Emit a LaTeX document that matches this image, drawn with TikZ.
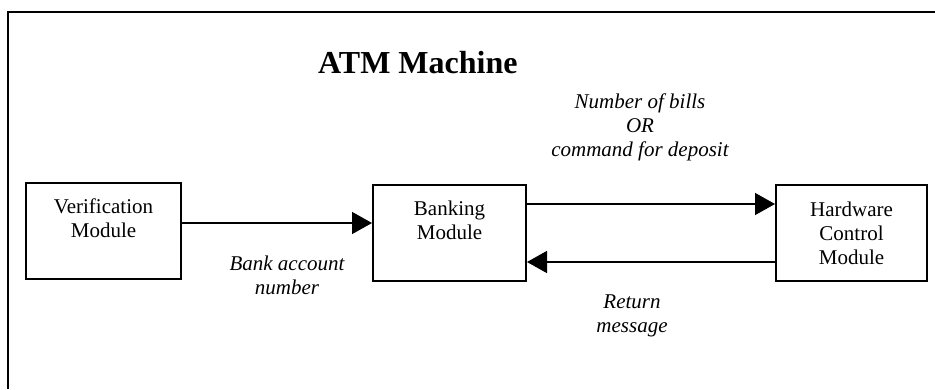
\documentclass[tikz,border=0pt]{standalone}
\usepackage{fontspec}
\setmainfont{Liberation Serif}
\usetikzlibrary{arrows.meta}

\tikzset{
  modbox/.style={draw, line width=2pt, minimum width=#1, minimum height=96pt, inner sep=0pt},
  boxtext/.style={anchor=north, align=center, inner sep=0pt,
    font=\fontsize{21}{24}\selectfont},
  flowlabel/.style={anchor=north, align=center, inner sep=0pt,
    font=\fontsize{21}{24}\selectfont\itshape},
  flow/.style={line width=1.5pt, -{Triangle[length=20pt,width=22pt]}},
  frameline/.style={line width=2pt}
}

\begin{document}
\begin{tikzpicture}[x=1pt,y=-1pt]
  \useasboundingbox (0,0) rectangle (935,389);

  % enclosing frame (only top and left edges are inside the page)
  \draw[frameline] (8,389) -- (8,12) -- (935,12);

  % title
  \node[anchor=base west, inner sep=0pt, font=\fontsize{32}{36}\selectfont\bfseries]
    (title) at (318,73) {ATM Machine};

  % modules
  \node[modbox=155pt] (ver) at (103.5,231) {};
  \node[modbox=153pt] (bank) at (449.5,233) {};
  \node[modbox=151pt] (hw) at (851.5,233) {};

  \node[boxtext] (vertext) at (103.5,199) {Verification\\Module};
  \node[boxtext] (banktext) at (449.5,201) {Banking\\Module};
  \node[boxtext] (hwtext) at (851.5,202) {Hardware\\Control\\Module};

  % data flows
  \draw[flow] (ver.east |- 0,223) -- (bank.west |- 0,223);
  \draw[flow] (bank.east |- 0,204) -- (hw.west |- 0,204);
  \draw[flow] (hw.west |- 0,262) -- (bank.east |- 0,262);

  % flow labels
  \node[flowlabel] (lblacct) at (287,256) {Bank account\\number};
  \node[flowlabel] (lblbills) at (640,94) {Number of bills\\OR\\command for deposit};
  \node[flowlabel] (lblret) at (632,295) {Return\\message};
\end{tikzpicture}
\end{document}
